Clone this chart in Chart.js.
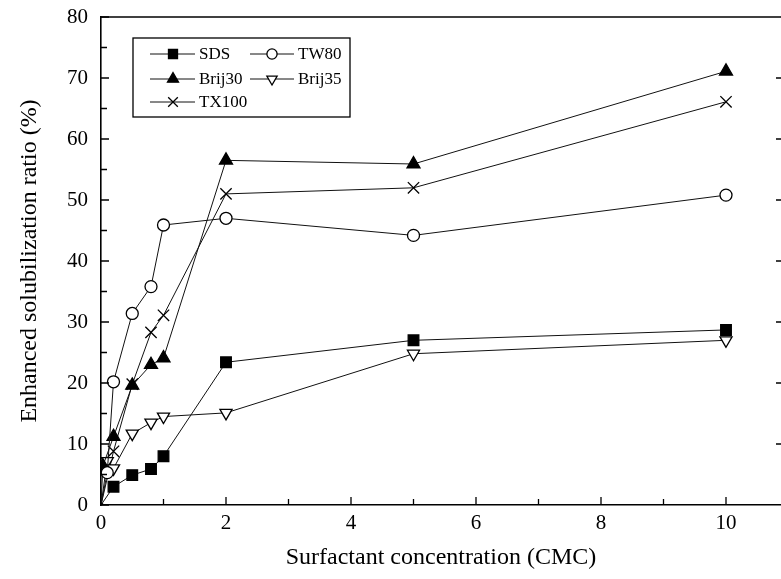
<!DOCTYPE html>
<html>
<head>
<meta charset="utf-8">
<script src="https://cdn.jsdelivr.net/npm/chart.js@4.4.0/dist/chart.umd.min.js"></script>
<style>
  html, body { margin: 0; padding: 0; background: #fff; overflow: hidden; }
  #wrap { width: 781px; height: 579px; }
  canvas { display: block; }
</style>
</head>
<body>
<div id="wrap"><canvas id="chart" width="781" height="579"></canvas></div>
<script>
// Surfactant concentration (x CMC) vs enhanced solubilization ratio (%)
const sdsX = [0, 0.2, 0.5, 0.8, 1, 2, 5, 10];
const sdsY = [0, 3.0, 4.9, 5.9, 8.0, 23.4, 27.0, 28.7];

const tw80X = [0, 0.1, 0.2, 0.5, 0.8, 1, 2, 5, 10];
const tw80Y = [0, 5.3, 20.2, 31.4, 35.8, 45.9, 47.0, 44.2, 50.8];

const brij30X = [0, 0.03, 0.2, 0.5, 0.8, 1, 2, 5, 10];
const brij30Y = [0, 6.4, 11.2, 19.6, 23.0, 24.1, 56.5, 55.9, 71.1];

const brij35X = [0, 0.1, 0.2, 0.5, 0.8, 1, 2, 5, 10];
const brij35Y = [0, 7.2, 6.0, 11.7, 13.5, 14.5, 15.1, 24.8, 27.0];

const tx100X = [0, 0.2, 0.5, 0.8, 1, 2, 5, 10];
const tx100Y = [0, 8.8, 19.8, 28.3, 31.1, 51.0, 52.0, 66.1];

const xTicks = [0, 2, 4, 6, 8, 10];
const yTicks = [0, 10, 20, 30, 40, 50, 60, 70, 80];

const SERIF = "'Liberation Serif', 'DejaVu Serif', serif";

function toPoints(xs, ys) {
    return xs.map((x, i) => ({ x: x, y: ys[i] }));
}

// marker look for each series (also used by the legend)
const seriesStyle = {
    SDS:    { pointStyle: 'rect',     radius: 7.5, fill: '#000', rotation: 0 },
    TW80:   { pointStyle: 'circle',   radius: 6,   fill: '#fff', rotation: 0 },
    Brij30: { pointStyle: 'triangle', radius: 7.5, fill: '#000', rotation: 0 },
    Brij35: { pointStyle: 'triangle', radius: 7,   fill: '#fff', rotation: 180 },
    TX100:  { pointStyle: 'crossRot', radius: 8,   fill: '#fff', rotation: 0 }
};

function makeDataset(label, xs, ys) {
    const s = seriesStyle[label];
    return {
        label: label,
        data: toPoints(xs, ys),
        showLine: true,
        tension: 0,
        borderColor: '#111',
        borderWidth: 1,
        pointStyle: s.pointStyle,
        pointRotation: s.rotation,
        pointBackgroundColor: s.fill,
        pointBorderColor: '#000',
        pointBorderWidth: 1.3,
        // the origin point is just a tiny mark in the figure
        pointRadius: ctx => ctx.dataIndex === 0 ? 1.5 : s.radius,
        pointHoverRadius: s.radius
    };
}

// inward tick marks + top frame line
const frameTicks = {
    id: 'frameTicks',
    afterDraw(chart) {
        const { ctx, chartArea: a, scales: { x, y } } = chart;
        ctx.save();
        ctx.strokeStyle = '#000';
        ctx.lineWidth = 1.6;
        ctx.beginPath();
        ctx.moveTo(a.left, a.top);
        ctx.lineTo(a.right, a.top);
        ctx.stroke();

        ctx.lineWidth = 1.3;
        ctx.beginPath();
        for (let v = 0; v <= 80; v += 5) {
            const py = y.getPixelForValue(v);
            const len = v % 10 === 0 ? 8 : 6;
            ctx.moveTo(a.left, py);
            ctx.lineTo(a.left + len, py);
            if (v % 10 === 0 && v > 0 && v < 80) {
                ctx.moveTo(a.right, py);
                ctx.lineTo(a.right - 5, py);
            }
        }
        for (let v = 1; v <= 10; v += 1) {
            const px = x.getPixelForValue(v);
            const len = v % 2 === 0 ? 8 : 6;
            ctx.moveTo(px, a.bottom);
            ctx.lineTo(px, a.bottom - len);
        }
        ctx.stroke();
        ctx.restore();
    }
};

// boxed two-column legend in the upper left of the plot
const boxLegend = {
    id: 'boxLegend',
    afterDraw(chart) {
        const { ctx, chartArea: a } = chart;
        const left = a.left + 32, top = a.top + 21;
        const w = 217, h = 79;
        ctx.save();
        ctx.fillStyle = '#fff';
        ctx.fillRect(left, top, w, h);
        ctx.strokeStyle = '#000';
        ctx.lineWidth = 1.3;
        ctx.strokeRect(left, top, w, h);

        const rows = [16, 41, 64];
        const cols = [
            { l0: 17, l1: 62, m: 40, t: 66 },
            { l0: 117, l1: 161, m: 139, t: 165 }
        ];
        const items = ['SDS', 'TW80', 'Brij30', 'Brij35', 'TX100'];
        ctx.font = '17px ' + SERIF;
        ctx.textBaseline = 'middle';
        ctx.textAlign = 'left';
        items.forEach((name, i) => {
            const r = rows[Math.floor(i / 2)];
            const c = cols[i % 2];
            const yy = top + r;
            ctx.strokeStyle = '#111';
            ctx.lineWidth = 1;
            ctx.beginPath();
            ctx.moveTo(left + c.l0, yy);
            ctx.lineTo(left + c.l1, yy);
            ctx.stroke();
            const s = seriesStyle[name];
            ctx.fillStyle = s.fill;
            ctx.strokeStyle = '#000';
            ctx.lineWidth = 1.3;
            Chart.helpers.drawPoint(ctx, {
                pointStyle: s.pointStyle,
                radius: s.radius * 0.85,
                rotation: s.rotation,
                borderWidth: 1.3
            }, left + c.m, yy);
            ctx.fillStyle = '#000';
            ctx.fillText(name, left + c.t, yy + 1);
        });
        ctx.restore();
    }
};

new Chart(document.getElementById('chart').getContext('2d'), {
    type: 'scatter',
    data: {
        datasets: [
            makeDataset('SDS', sdsX, sdsY),
            makeDataset('TW80', tw80X, tw80Y),
            makeDataset('Brij30', brij30X, brij30Y),
            makeDataset('Brij35', brij35X, brij35Y),
            makeDataset('TX100', tx100X, tx100Y)
        ]
    },
    options: {
        responsive: false,
        animation: false,
        devicePixelRatio: 1,
        layout: {
            autoPadding: false,
            padding: { top: 17, right: 0, left: 0, bottom: 0 }
        },
        plugins: {
            legend: { display: false },
            tooltip: { enabled: false }
        },
        scales: {
            x: {
                type: 'linear',
                min: 0,
                max: 10.88,
                afterFit: s => {
                    s.height = 74;
                    s.paddingLeft = 0;
                    s.paddingRight = 0;
                },
                afterBuildTicks: s => { s.ticks = xTicks.map(v => ({ value: v })); },
                grid: { drawOnChartArea: false, drawTicks: false },
                border: { display: true, color: '#000', width: 1.6 },
                ticks: {
                    color: '#000',
                    padding: 6,
                    maxRotation: 0,
                    font: { family: SERIF, size: 21 }
                },
                title: {
                    display: true,
                    text: 'Surfactant concentration (CMC)',
                    color: '#000',
                    padding: { top: 0, bottom: 7 },
                    font: { family: SERIF, size: 24 }
                }
            },
            y: {
                type: 'linear',
                min: 0,
                max: 80,
                afterFit: s => {
                    s.width = 101;
                    s.paddingTop = 0;
                    s.paddingBottom = 0;
                },
                afterBuildTicks: s => { s.ticks = yTicks.map(v => ({ value: v })); },
                grid: { drawOnChartArea: false, drawTicks: false },
                border: { display: true, color: '#000', width: 1.6 },
                ticks: {
                    color: '#000',
                    padding: 13,
                    font: { family: SERIF, size: 21 }
                },
                title: {
                    display: true,
                    text: 'Enhanced solubilization ratio (%)',
                    color: '#000',
                    padding: { top: 15, bottom: 0 },
                    font: { family: SERIF, size: 24 }
                }
            }
        }
    },
    plugins: [frameTicks, boxLegend]
});
</script>
</body>
</html>
